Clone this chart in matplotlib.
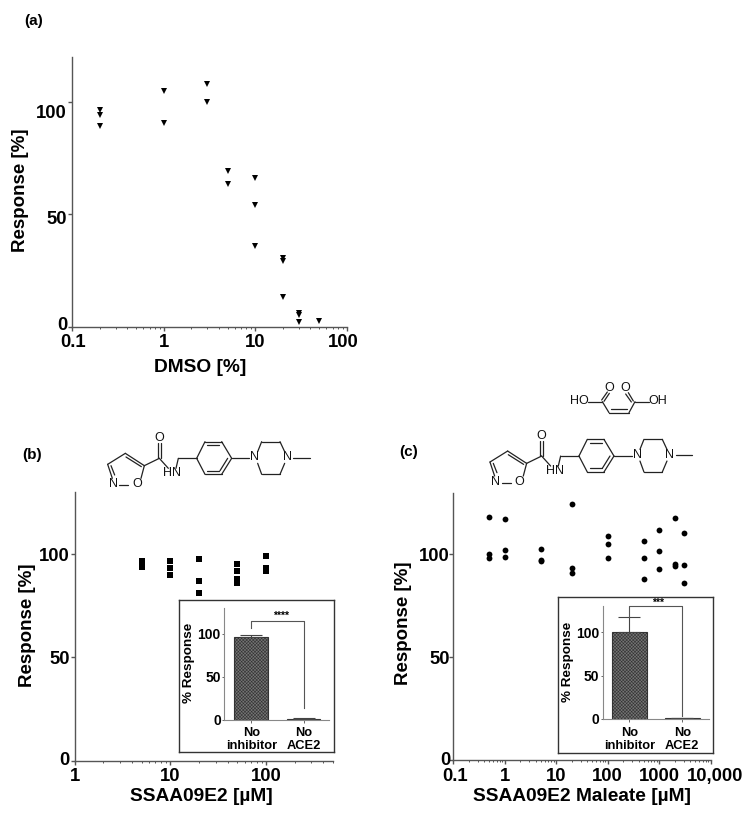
"""Panels (a)-(c): response curves with inhibition insets and structures."""
import matplotlib
matplotlib.use("Agg")
import matplotlib.pyplot as plt
import matplotlib.ticker as mticker
from matplotlib.transforms import ScaledTranslation

plt.rcParams.update({
    "font.family": ["Liberation Sans", "DejaVu Sans"],
    "font.weight": "bold",
    "hatch.linewidth": 0.4,
    "hatch.color": "#2a2a2a",
})

W, H = 748, 814
AXC = "#555555"

# panel a
dmso_x = [0.2, 0.2, 0.2, 1, 1, 3, 3, 5, 5, 10, 10, 10, 20, 20, 20, 30, 30, 30, 50]
dmso_y = [96.6, 94.2, 89.3, 104.8, 90.6, 107.9, 100.1, 69.5, 63.4, 66.3, 54.1,
          36.1, 30.5, 29.4, 13.4, 6.2, 5.2, 2.1, 2.5]
# panel b
ssaa_x = [5, 5, 5, 5, 10, 10, 10, 20, 20, 20, 50, 50, 50, 50, 100, 100, 100]
ssaa_y = [96.8, 95.5, 94.5, 93.8, 96.6, 93.2, 90.0, 97.7, 87.2, 81.3, 95.2, 92.1,
          87.9, 85.9, 99.2, 93.2, 91.9]
# panel c
mal_x = [0.5, 0.5, 0.5, 1, 1, 1, 5, 5, 5, 20, 20, 20, 100, 100, 100, 500, 500, 500,
         1000, 1000, 1000, 2000, 2000, 2000, 3000, 3000, 3000]
mal_y = [118.1, 100.3, 98.2, 117.0, 102.4, 98.8, 102.7, 97.2, 96.6, 124.3, 93.5,
         91.0, 109.0, 105.3, 98.3, 106.3, 98.2, 87.9, 112.1, 101.6, 92.7, 117.8,
         95.3, 94.3, 110.2, 95.1, 85.9]
# insets
inset_cats = ["No\ninhibitor", "No\nACE2"]
inset_b_vals = [96, 1]
inset_b_err = [2, 0.5]
inset_c_vals = [100, 1]
inset_c_err = [17.5, 0.5]

fig = plt.figure(figsize=(W / 100, H / 100), dpi=100)


def make_axes(l, r, t, b, **kw):
    return fig.add_axes([l / W, 1 - b / H, (r - l) / W, (b - t) / H], **kw)


def style(ax, lw=1.0):
    ax.spines["top"].set_visible(False)
    ax.spines["right"].set_visible(False)
    for s in ("left", "bottom"):
        ax.spines[s].set_color(AXC)
        ax.spines[s].set_linewidth(lw)


def nudge(label, dx, dy):
    """Shift a tick label by a few image pixels."""
    label.set_transform(label.get_transform()
                        + ScaledTranslation(dx / 100, -dy / 100, fig.dpi_scale_trans))


def panel(box, xs, ys, marker, ms, xlim, ylim, xticks, xlabels, xlabel, ylab_pos, xlab_pos,
          ypad, y_offs=(0, 0, 0), x_offs=None):
    ax = make_axes(*box)
    style(ax)
    ax.plot(xs, ys, ls="none", marker=marker, ms=ms, color="black", mew=0, clip_on=False)
    ax.set_xscale("log")
    ax.set_xlim(*xlim)
    ax.set_ylim(*ylim)
    ax.set_xticks(xticks)
    ax.set_xticklabels(xlabels)
    ax.xaxis.set_minor_locator(mticker.LogLocator(base=10, subs=range(2, 10), numticks=20))
    ax.xaxis.set_minor_formatter(mticker.NullFormatter())
    ax.set_yticks([0, 50, 100])
    ax.tick_params(axis="both", which="major", length=3, width=1, color=AXC, labelsize=13.3)
    ax.tick_params(axis="x", which="major", pad=2.5)
    ax.tick_params(axis="y", which="major", pad=ypad)
    ax.tick_params(axis="x", which="minor", length=1.5, width=0.7, color=AXC)
    for t, off in zip(ax.get_yticklabels(), y_offs):
        nudge(t, 0, off)
    if x_offs:
        for t, off in zip(ax.get_xticklabels(), x_offs):
            nudge(t, off, 0)
    fig.text(ylab_pos[0] / W, 1 - ylab_pos[1] / H, "Response [%]", rotation=90,
             ha="center", va="center", fontsize=13.5)
    fig.text(xlab_pos[0] / W, 1 - xlab_pos[1] / H, xlabel, ha="center", va="center",
             fontsize=13.8)
    return ax


def inset(frame, box, vals, err, xlim, bracket, stars, stars_xy, ylab_pos):
    fr = make_axes(*frame)
    fr.set_xticks([])
    fr.set_yticks([])
    for s in fr.spines.values():
        s.set_color("#333333")
        s.set_linewidth(1.0)
    ax = make_axes(*box)
    ax.patch.set_alpha(0)
    style(ax, 0.8)
    ax.spines["left"].set_color("#888888")
    ax.spines["bottom"].set_color("#888888")
    ax.bar([0, 1], vals, width=0.65, color="#747474", edgecolor="#333333", lw=0.8,
           hatch="xxxxxxxxxx", yerr=[[0, 0], err], ecolor="#444444",
           error_kw=dict(capsize=8, capthick=0.8, elinewidth=0.8))
    ax.set_xlim(*xlim)
    ax.set_ylim(0, 130)
    ax.set_xticks([0, 1])
    ax.set_xticklabels(inset_cats, linespacing=1.1, fontsize=9.3)
    ax.set_yticks([0, 50, 100])
    ax.tick_params(axis="y", length=1.5, width=0.7, color="#666666", labelsize=10, pad=1)
    ax.tick_params(axis="x", length=2.5, width=0.7, color="#666666", pad=3)
    ax.plot([0, 0, 1, 1], bracket, color="#555555", lw=0.8, clip_on=False)
    ax.text(stars_xy[0], stars_xy[1], stars, ha="center", va="center", fontsize=7.5)
    fig.text(ylab_pos[0] / W, 1 - ylab_pos[1] / H, "% Response", rotation=90, ha="center",
             va="center", fontsize=9.7)
    return ax


# overlay for labels and chemical structures, in image pixels
ov = fig.add_axes([0, 0, 1, 1], zorder=5)
ov.set_xlim(0, W)
ov.set_ylim(H, 0)
ov.axis("off")


def bonds(segs, dx=0, dy=0):
    for x0, y0, x1, y1 in segs:
        ov.plot([x0 / 3 + dx, x1 / 3 + dx], [y0 / 3 + dy, y1 / 3 + dy], color="#222222", lw=0.9,
                solid_capstyle="round")


def atom(s, x, y, dx=0, dy=0):
    ov.text(x / 3 + dx, y / 3 + dy, s, ha="center", va="center", fontsize=9,
            fontweight="normal", color="#111111")


MOL_BONDS = [
    (358, 195, 385, 195), (423, 175, 433, 137), (433, 137, 376, 100), (424, 140, 378, 111),
    (376, 100, 323, 133), (323, 133, 337, 175), (333, 137, 344, 165),
    (433, 137, 478, 115), (474, 115, 474, 70), (482, 115, 482, 70), (478, 115, 505, 145),
    (528, 145, 535, 115), (535, 115, 590, 115),
    (590, 115, 615, 65), (615, 65, 665, 65), (665, 65, 695, 115), (695, 115, 665, 163),
    (665, 163, 615, 163), (615, 163, 590, 115), (622, 76, 658, 76), (683, 115, 660, 152),
    (622, 152, 658, 152), (695, 115, 748, 115),
    (773, 95, 785, 65), (785, 65, 840, 65), (840, 65, 854, 95),
    (854, 130, 840, 163), (840, 163, 785, 163), (785, 163, 773, 130), (880, 113, 930, 113),
]
MAL_BONDS = [
    (643, 95, 685, 95), (685, 95, 705, 128), (683, 90, 700, 66), (690, 94, 706, 70),
    (705, 128, 765, 128), (712, 118, 758, 118), (765, 128, 783, 95),
    (763, 68, 778, 93), (755, 72, 772, 96), (783, 95, 825, 95),
]


def molecule(dx, dy):
    bonds(MOL_BONDS, dx, dy)
    for s, x, y in [("N", 340, 192), ("O", 411, 192), ("O", 478, 54), ("HN", 517, 160),
                    ("N", 765, 112), ("N", 862, 112)]:
        atom(s, x, y, dx, dy)


molecule(0, 420)
molecule(382.3, 417.7)
bonds(MAL_BONDS, 374, 370)
for s, x, y in [("HO", 616, 93), ("O", 707, 54), ("O", 753, 54), ("OH", 850, 93)]:
    atom(s, x, y, 374, 370)

for s, x, y in [("(a)", 34, 20.5), ("(b)", 32, 455), ("(c)", 409, 452)]:
    ov.text(x, y, s, ha="center", va="center", fontsize=11)

panel((72.3, 346.7, 57.3, 326.7), dmso_x, dmso_y, "v", 4.2, (0.1, 100), (0, 120),
      [0.1, 1, 10, 100], ["0.1", "1", "10", "100"], "DMSO [%]", (21, 190), (200, 367),
      0.8, y_offs=(-3, 3, 9), x_offs=(1, 0, 0, -3))
panel((74.7, 332.7, 492.3, 760.7), ssaa_x, ssaa_y, "s", 3.8, (1, 500), (0, 130),
      [1, 10, 100], ["1", "10", "100"], "SSAA09E2 [µM]", (27, 625), (201, 796.5),
      0.4, y_offs=(-2, 0, 0))
panel((453.3, 710.7, 492.7, 760.3), mal_x, mal_y, "o", 4.2, (0.1, 10000), (0, 130),
      [0.1, 1, 10, 100, 1000, 10000], ["0.1", "1", "10", "100", "1000", "10,000"],
      "SSAA09E2 Maleate [µM]", (403, 623.5), (582, 796.5), -0.7, y_offs=(-2, 0, 0),
      x_offs=(2, 0, 0, 0, 0, 4))

inset((179, 333.7, 600.3, 752.3), (224.3, 329.3, 607.7, 719.7), inset_b_vals, inset_b_err,
      (-0.517, 1.494), [107, 115, 115, 14], "****", (0.57, 120), (189, 663))
inset((558.3, 712.7, 597.3, 753.3), (602.7, 708.7, 606.3, 719), inset_c_vals, inset_c_err,
      (-0.502, 1.498), [117.5, 130, 130, 3], "***", (0.54, 134), (568.3, 662))

fig.savefig("out.png", dpi=100)
